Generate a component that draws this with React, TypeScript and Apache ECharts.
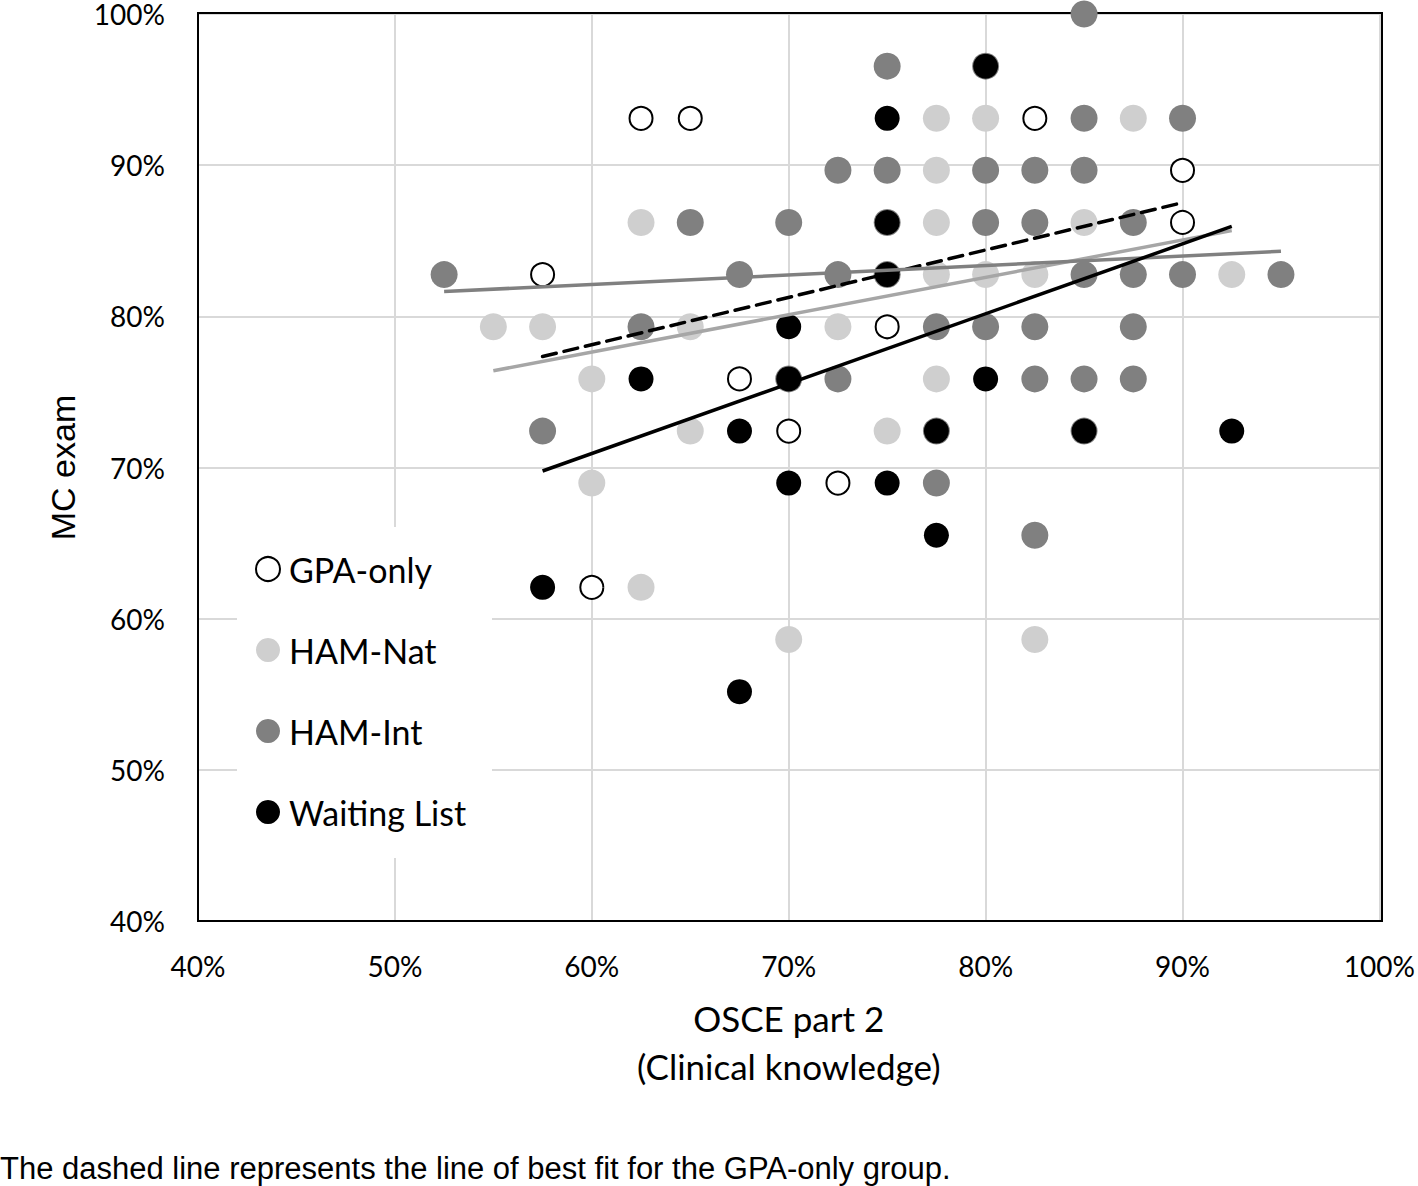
import React, { useEffect, useRef } from "react";
import * as echarts from "echarts";

// OSCE part 2 (%) vs MC exam (%)
const gpaOnly: number[][] = [
  [62.5, 93.1], [65, 93.1], [82.5, 93.1], [90, 89.66], [90, 86.21], [57.5, 82.76],
  [75, 79.31], [67.5, 75.86], [70, 72.41], [72.5, 68.97], [60, 62.07],
];
const hamNat: number[][] = [
  [77.5, 93.1], [80, 93.1], [87.5, 93.1], [77.5, 89.66], [62.5, 86.21], [77.5, 86.21],
  [85, 86.21], [77.5, 82.76], [80, 82.76], [82.5, 82.76], [92.5, 82.76], [55, 79.31],
  [57.5, 79.31], [65, 79.31], [72.5, 79.31], [60, 75.86], [77.5, 75.86], [65, 72.41],
  [75, 72.41], [60, 68.97], [62.5, 62.07], [70, 58.62], [82.5, 58.62],
];
const hamInt: number[][] = [
  [85, 100], [75, 96.55], [80, 96.55], [85, 93.1], [90, 93.1], [72.5, 89.66], [75, 89.66],
  [80, 89.66], [82.5, 89.66], [85, 89.66], [65, 86.21], [70, 86.21], [75, 86.21],
  [80, 86.21], [82.5, 86.21], [87.5, 86.21], [52.5, 82.76], [67.5, 82.76], [72.5, 82.76],
  [75, 82.76], [85, 82.76], [87.5, 82.76], [90, 82.76], [95, 82.76], [62.5, 79.31],
  [77.5, 79.31], [80, 79.31], [82.5, 79.31], [87.5, 79.31], [70, 75.86], [72.5, 75.86],
  [82.5, 75.86], [85, 75.86], [87.5, 75.86], [57.5, 72.41], [77.5, 72.41], [85, 72.41],
  [77.5, 68.97], [82.5, 65.52],
];
const waitingList: number[][] = [
  [80, 96.55], [75, 93.1], [75, 86.21], [75, 82.76], [70, 79.31], [62.5, 75.86],
  [70, 75.86], [80, 75.86], [67.5, 72.41], [77.5, 72.41], [85, 72.41], [92.5, 72.41],
  [70, 68.97], [75, 68.97], [77.5, 65.52], [57.5, 62.07], [67.5, 55.17],
];

// Lines of best fit (end points)
const gpaFit: number[][] = [[57.5, 77.34], [90, 87.52]];
const hamNatFit: number[][] = [[55, 76.4], [92.5, 85.67]];
const hamIntFit: number[][] = [[52.5, 81.64], [95, 84.3]];
const waitingFit: number[][] = [[57.5, 69.77], [92.5, 85.95]];

const seriesNames = ["GPA-only", "HAM-Nat", "HAM-Int", "Waiting List"];
const footnote = "The dashed line represents the line of best fit for the GPA-only group.";

const CAL = "Lato, 'Open Sans', sans-serif";
const ARIAL = "'Liberation Sans', Arial, sans-serif";

export default function App() {
  const ref = useRef<HTMLDivElement>(null);
  useEffect(() => {
    const chart = echarts.init(ref.current!, null, { renderer: "svg" });
    const axisCommon = {
      type: "value",
      min: 40,
      max: 100,
      interval: 10,
      axisLine: { show: true, lineStyle: { color: "#000", width: 2 } },
      axisTick: { show: false },
      splitLine: { show: true, lineStyle: { color: "#d9d9d9", width: 2 } },
      axisLabel: {
        formatter: "{value}%",
        color: "#000",
        fontFamily: CAL,
        fontSize: 28,
        lineHeight: 22,
      },
    };
    chart.setOption({
      animation: false,
      backgroundColor: "#fff",
      grid: {
        left: 198,
        right: 36,
        top: 13,
        bottom: 265,
        show: false,
      },
      xAxis: {
        ...axisCommon,
        axisLabel: { ...axisCommon.axisLabel, margin: 34 },
        name: "OSCE part 2\n(Clinical knowledge)",
        nameLocation: "middle",
        nameGap: 73,
        nameTextStyle: { fontFamily: CAL, fontSize: 35, color: "#000", lineHeight: 48 },
      },
      yAxis: {
        ...axisCommon,
        axisLabel: { ...axisCommon.axisLabel, margin: 33 },
        name: "MC exam",
        nameLocation: "middle",
        nameGap: 118,
        nameTextStyle: { fontFamily: ARIAL, fontSize: 34, color: "#000" },
      },
      legend: {
        data: seriesNames,
        orient: "vertical",
        left: 255,
        top: 552,
        padding: 0,
        itemWidth: 24,
        itemHeight: 24,
        itemGap: 47,
        z: 6,
        textStyle: {
          fontFamily: CAL,
          fontSize: 34,
          color: "#000",
          lineHeight: 34,
          padding: [0, 0, 0, 4],
        },
      },
      graphic: [
        {
          type: "rect",
          z: 1,
          silent: true,
          shape: { x: 198, y: 13, width: 1184, height: 908 },
          style: { fill: "none", stroke: "#000", lineWidth: 2 },
        },
        {
          type: "rect",
          z: 5,
          shape: { x: 237, y: 527, width: 255, height: 331 },
          style: { fill: "#fff" },
        },
        {
          type: "text",
          left: 0,
          top: 1153,
          style: { text: footnote, fontFamily: ARIAL, fontSize: 31, fill: "#000" },
        },
      ],
      series: [
        {
          name: "GPA-only",
          type: "scatter",
          data: gpaOnly,
          symbolSize: 23,
          itemStyle: { color: "#fff", borderColor: "#000", borderWidth: 2, opacity: 1 },
        },
        {
          name: "HAM-Nat",
          type: "scatter",
          data: hamNat,
          symbolSize: 27,
          itemStyle: { color: "#cfcfcf", opacity: 1 },
        },
        {
          name: "HAM-Int",
          type: "scatter",
          data: hamInt,
          symbolSize: 27,
          itemStyle: { color: "#808080", opacity: 1 },
        },
        {
          name: "Waiting List",
          type: "scatter",
          data: waitingList,
          symbolSize: 25,
          itemStyle: { color: "#000", opacity: 1 },
        },
        {
          name: "GPA-only fit",
          type: "line",
          data: gpaFit,
          symbol: "none",
          lineStyle: { color: "#000", width: 3.5, type: [14, 8], cap: "round" },
        },
        {
          name: "HAM-Nat fit",
          type: "line",
          data: hamNatFit,
          symbol: "none",
          lineStyle: { color: "#a6a6a6", width: 3.5 },
        },
        {
          name: "HAM-Int fit",
          type: "line",
          data: hamIntFit,
          symbol: "none",
          lineStyle: { color: "#808080", width: 3.5 },
        },
        {
          name: "Waiting List fit",
          type: "line",
          data: waitingFit,
          symbol: "none",
          lineStyle: { color: "#000", width: 3.5 },
        },
      ],
    });
    return () => chart.dispose();
  }, []);
  return (
    <div
      ref={ref}
      style={{ position: "absolute", left: 0, top: 0, width: 1418, height: 1186, background: "#fff" }}
    />
  );
}
